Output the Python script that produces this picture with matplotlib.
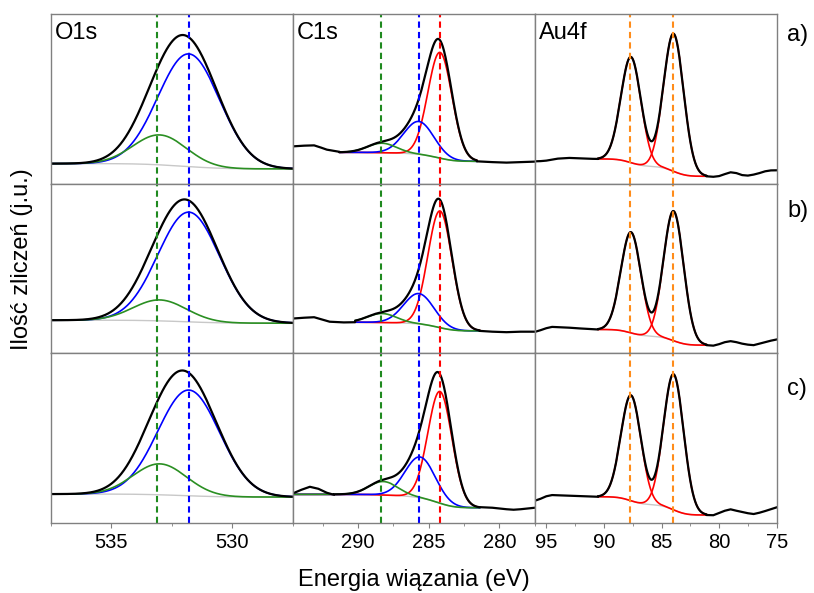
import numpy as np
import matplotlib
matplotlib.use('Agg')
import matplotlib.pyplot as plt
from matplotlib.ticker import MultipleLocator, FixedLocator

plt.rcParams['font.family'] = ['Liberation Sans', 'DejaVu Sans']

# ---------------- data (intensity in arbitrary units) ----------------
row_labels = ['a)', 'b)', 'c)']
col_titles = ['O1s', 'C1s', 'Au4f']
x_label = 'Energia wiązania (eV)'
y_label = 'Ilość zliczeń (j.u.)'

o1s_xlim = (537.5, 527.5)
c1s_xlim = (294.6, 277.5)
au4f_xlim = (96.0, 75.0)
o1s_ticks = [535, 530]
c1s_ticks = [290, 285, 280]
au4f_ticks = [95, 90, 85, 80, 75]

# O1s fitted components (blue: 531.8 eV, green: 533.0 eV)
o1s_blue_center = 531.8
o1s_green_center = 533.0
o1s_blue_fwhm = 3.0
o1s_green_fwhm = 2.6
o1s_blue_amp = [113, 110, 106]
o1s_green_amp = [30, 21, 31]
o1s_bg_high = [20.0, 33.0, 28.7]
o1s_bg_low = [14.7, 30.0, 25.7]
o1s_marks = [533.1, 531.8]

# C1s fitted components (red 284.2, blue 285.7, green 288.3 eV)
c1s_red_center = [284.2, 284.2, 284.2]
c1s_blue_center = [285.7, 285.7, 285.6]
c1s_green_center = [288.3, 288.3, 288.2]
c1s_red_fwhm = 2.0
c1s_blue_fwhm = 2.5
c1s_green_fwhm = 2.4
c1s_red_amp = [106, 117, 112]
c1s_blue_amp = [33, 30.5, 41]
c1s_green_amp = [9.5, 9.0, 13.5]
c1s_bg_high = [31.3, 31.0, 28.4]
c1s_bg_low = [22.3, 22.3, 15.0]
c1s_fit_high = [291.3, 290.2, 294.6]
c1s_fit_low = [281.6, 281.4, 281.4]
c1s_raw_join = [291.3, 290.2, 291.7]
c1s_marks = [288.4, 285.7, 284.2]
# measured C1s data outside the fitted window
c1s_left_e = [[294.6, 293.8, 293.1, 292.6, 292.2, 291.6, 291.3],
              [294.6, 293.8, 293.1, 292.5, 292.0, 291.0, 290.2],
              [294.6, 294.0, 293.4, 292.8, 292.2, 291.7]]
c1s_left_i = [[37.3, 38.0, 38.3, 36.0, 34.0, 32.5, 31.8],
              [34.7, 35.5, 36.0, 33.5, 31.5, 30.8, 31.0],
              [29.4, 33.0, 36.0, 34.0, 30.0, 28.0]]
c1s_right_e = [[281.6, 280.5, 279.5, 278.5, 277.5],
               [281.4, 280.5, 279.5, 278.5, 277.5],
               [281.4, 280.5, 279.5, 279.0, 278.5, 277.5]]
c1s_right_i = [[22.3, 21.5, 21.0, 21.5, 22.0],
               [22.3, 21.5, 21.0, 21.5, 21.5],
               [15.5, 15.0, 13.5, 13.0, 13.5, 15.0]]

# Au4f doublet (4f5/2 87.65 eV, 4f7/2 83.95 eV)
au4f_p1_center = 87.65
au4f_p2_center = 83.95
au4f_fwhm = 2.05
au4f_p1_amp = [106, 101, 105.7]
au4f_p2_amp = [138, 130, 136]
au4f_bg_high = [24.7, 23.7, 26.0]
au4f_bg_low = [7.3, 8.0, 7.7]
au4f_fit_high = 90.5
au4f_fit_low = 81.1
au4f_marks = [87.7, 84.0]
au4f_left_e = [96.0, 95.5, 95.0, 94.5, 94.0, 93.0, 92.0, 91.0, 90.5]
au4f_left_i = [[22.3, 22.5, 23.0, 24.0, 25.0, 25.7, 25.3, 24.8, 24.7],
               [21.3, 23.0, 25.0, 26.3, 26.0, 25.5, 24.7, 24.0, 23.7],
               [22.0, 24.0, 26.5, 27.7, 27.5, 27.0, 26.5, 26.2, 26.0]]
au4f_right_e = [81.1, 80.5, 80.0, 79.5, 79.0, 78.5, 78.0, 77.5, 77.0, 76.5, 76.0, 75.5, 75.0]
au4f_right_i = [[7.3, 6.8, 7.5, 9.5, 11.3, 10.5, 8.5, 8.0, 9.0, 10.5, 12.3, 13.2, 13.3],
                [8.0, 7.5, 9.0, 11.0, 12.0, 11.0, 9.5, 8.5, 8.0, 9.5, 11.0, 12.5, 13.7],
                [7.7, 7.5, 9.7, 12.0, 13.4, 12.0, 10.7, 9.5, 8.7, 10.0, 11.7, 13.5, 15.4]]

# ---------------- helpers ----------------
def gauss(E, c, fwhm, amp):
    s = fwhm / 2.3548
    return amp * np.exp(-0.5 * ((E - c) / s) ** 2)


def shirley(E, total, lo_level, hi_level):
    cum = np.concatenate([[0.0], np.cumsum(0.5 * (total[1:] + total[:-1]) * np.diff(E))])
    return lo_level + (hi_level - lo_level) * cum / cum[-1]


BLACK = '#000000'
BLUE = '#0000ff'
RED = '#ff0000'
GREEN = '#2a8f22'
GREEN_D = '#1f8a1f'
ORANGE = '#ff8c1a'
GRAY = '#c8c8c8'
SPINE = '#808080'
LW_BLACK = 1.6
LW_COMP = 1.2
DASH = (0, (3, 2))

fig, axes = plt.subplots(3, 3, figsize=(8.14, 5.93), dpi=100)
fig.subplots_adjust(left=51 / 814, right=776.7 / 814, top=1 - 14 / 593,
                    bottom=1 - 522.7 / 593, wspace=0, hspace=0)

row_label_y = [0.876, 0.84, 0.788]

for r in range(3):
    # ---------- O1s ----------
    ax = axes[r, 0]
    E = np.linspace(min(o1s_xlim), max(o1s_xlim), 800)
    blue = gauss(E, o1s_blue_center, o1s_blue_fwhm, o1s_blue_amp[r])
    green = gauss(E, o1s_green_center, o1s_green_fwhm, o1s_green_amp[r])
    bg = shirley(E, blue + green, o1s_bg_low[r], o1s_bg_high[r])
    ax.plot(E, bg, color=GRAY, lw=1.0)
    ax.plot(E, blue + bg, color=BLUE, lw=LW_COMP)
    ax.plot(E, green + bg, color=GREEN, lw=LW_COMP)
    ax.plot(E, blue + green + bg, color=BLACK, lw=LW_BLACK)
    for xm, col in zip(o1s_marks, [GREEN_D, BLUE]):
        ax.axvline(xm, color=col, lw=1.5, ls=DASH)
    ax.set_xlim(*o1s_xlim)
    ax.xaxis.set_major_locator(FixedLocator(o1s_ticks))
    ax.xaxis.set_minor_locator(MultipleLocator(2.5))

    # ---------- C1s ----------
    ax = axes[r, 1]
    E = np.linspace(c1s_fit_low[r], c1s_fit_high[r], 800)
    red = gauss(E, c1s_red_center[r], c1s_red_fwhm, c1s_red_amp[r])
    blue = gauss(E, c1s_blue_center[r], c1s_blue_fwhm, c1s_blue_amp[r])
    green = gauss(E, c1s_green_center[r], c1s_green_fwhm, c1s_green_amp[r])
    bg = shirley(E, red + blue + green, c1s_bg_low[r], c1s_bg_high[r])
    env = red + blue + green + bg
    ax.plot(E, bg, color=GRAY, lw=1.0)
    ax.plot(E, red + bg, color=RED, lw=LW_COMP)
    ax.plot(E, blue + bg, color=BLUE, lw=LW_COMP)
    ax.plot(E, green + bg, color=GREEN, lw=LW_COMP)
    inside = E <= c1s_raw_join[r]
    raw_e = np.concatenate([c1s_right_e[r][::-1], E[inside], c1s_left_e[r][::-1]])
    raw_i = np.concatenate([c1s_right_i[r][::-1], env[inside], c1s_left_i[r][::-1]])
    ax.plot(raw_e, raw_i, color=BLACK, lw=LW_BLACK)
    for xm, col in zip(c1s_marks, [GREEN_D, BLUE, RED]):
        ax.axvline(xm, color=col, lw=1.5, ls=DASH)
    ax.set_xlim(*c1s_xlim)
    ax.xaxis.set_major_locator(FixedLocator(c1s_ticks))
    ax.xaxis.set_minor_locator(MultipleLocator(2.5))

    # ---------- Au4f ----------
    ax = axes[r, 2]
    E = np.linspace(au4f_fit_low, au4f_fit_high, 800)
    p1 = gauss(E, au4f_p1_center, au4f_fwhm, au4f_p1_amp[r])
    p2 = gauss(E, au4f_p2_center, au4f_fwhm, au4f_p2_amp[r])
    bg = shirley(E, p1 + p2, au4f_bg_low[r], au4f_bg_high[r])
    env = p1 + p2 + bg
    ax.plot(E, bg, color=GRAY, lw=1.0)
    ax.plot(E, p1 + bg, color=RED, lw=LW_COMP)
    ax.plot(E, p2 + bg, color=RED, lw=LW_COMP)
    raw_e = np.concatenate([au4f_right_e[::-1], E, au4f_left_e[::-1]])
    raw_i = np.concatenate([au4f_right_i[r][::-1], env, au4f_left_i[r][::-1]])
    ax.plot(raw_e, raw_i, color=BLACK, lw=LW_BLACK)
    for xm in au4f_marks:
        ax.axvline(xm, color=ORANGE, lw=1.5, ls=DASH)
    ax.set_xlim(*au4f_xlim)
    ax.xaxis.set_major_locator(FixedLocator(au4f_ticks))
    ax.xaxis.set_minor_locator(MultipleLocator(2.5))

    axes[r, 2].text(1.043, row_label_y[r], row_labels[r], transform=axes[r, 2].transAxes,
                    fontsize=17, ha='left', va='center')

for r in range(3):
    for c in range(3):
        ax = axes[r, c]
        ax.set_ylim(0, 170)
        ax.set_yticks([])
        for sp in ax.spines.values():
            sp.set_color(SPINE)
            sp.set_linewidth(1.0)
        ax.tick_params(axis='x', which='both', direction='out', color=SPINE,
                       labelsize=14.5, pad=4)
        ax.tick_params(axis='x', which='major', length=3.5)
        ax.tick_params(axis='x', which='minor', length=2.5)
        if r < 2:
            ax.tick_params(axis='x', which='both', bottom=False, labelbottom=False)
        if r == 0:
            ax.text(0.017, 0.888, col_titles[c], transform=ax.transAxes,
                    fontsize=17, ha='left', va='center')

fig.text(414 / 814, 1 - 580 / 593, x_label, ha='center', va='center', fontsize=17)
fig.text(22 / 814, 1 - 259 / 593, y_label, ha='center', va='center', fontsize=17,
         rotation=90)

fig.savefig('out.png', dpi=100)
